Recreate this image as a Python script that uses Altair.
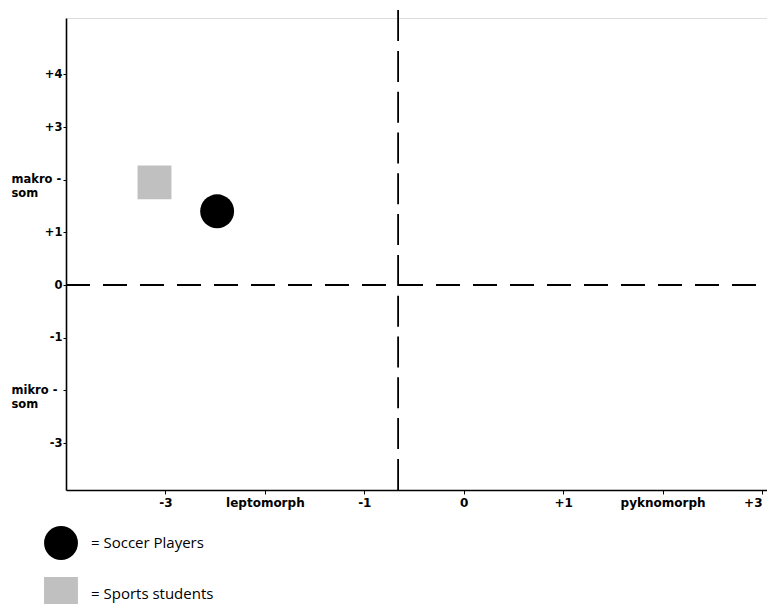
import altair as alt
import pandas as pd

# ---- data ----
groups = ["Soccer Players", "Sports students"]
legend_labels = ["= Soccer Players", "= Sports students"]
x_vals = [-2.48, -3.11]
y_vals = [1.40, 1.95]
shapes = ["circle", "square"]
colors = ["#000000", "#c0c0c0"]

x_ticks = [-3, -2, -1, 0, 1, 2, 3]
x_labels = ["-3", "leptomorph", "-1", "0", "+1", "pyknomorph", "+3"]
y_ticks = [-3, -2, -1, 0, 1, 2, 3, 4]
y_labels = [["-3"], ["mikro -", "som"], ["-1"], ["0"], ["+1"],
            ["makro -", "som"], ["+3"], ["+4"]]

x_domain = [-4.0, 3.05]
y_domain = [-3.89, 5.07]

h_line_y = [0.0]
h_line_x = [-4.0, 3.05]
v_line_x = [-0.66]
v_line_y = [-3.89, 5.22]

df = pd.DataFrame({"group": groups, "x": x_vals, "y": y_vals})


def js_list(vals):
    out = []
    for v in vals:
        if isinstance(v, list):
            out.append("[" + ",".join("'" + s + "'" for s in v) + "]")
        elif isinstance(v, str):
            out.append("'" + v + "'")
        else:
            out.append(str(v))
    return "[" + ",".join(out) + "]"


x_label_expr = f"{js_list(x_labels)}[indexof({js_list(x_ticks)}, datum.value)]"
y_label_expr = f"{js_list(y_labels)}[indexof({js_list(y_ticks)}, datum.value)]"

FONT = "DejaVu Sans"

xscale = alt.Scale(domain=x_domain, nice=False, zero=False)
yscale = alt.Scale(domain=y_domain, nice=False, zero=False)

x_axis = alt.Axis(values=x_ticks, labelExpr=x_label_expr, title=None, grid=False,
                  domainColor="black", domainWidth=1.6, tickColor="black", tickSize=4,
                  labelFont=FONT, labelFontSize=12, labelFontWeight="bold",
                  labelColor="black", labelPadding=3,
                  labelAlign={"condition": {"test": "datum.value >= 3", "value": "right"},
                              "value": "center"},
                  labelOverlap=False, labelFlush=False)
y_axis = alt.Axis(values=y_ticks, labelExpr=y_label_expr, title=None, grid=False,
                  domainColor="black", domainWidth=1.6, tickColor="black", tickSize=3,
                  labelFont=FONT, labelFontSize=11.5, labelFontWeight="bold",
                  labelColor="black",
                  labelPadding={"condition": {"test": "abs(datum.value) == 2", "value": 52},
                                "value": 1},
                  labelAlign={"condition": {"test": "abs(datum.value) == 2", "value": "left"},
                              "value": "right"},
                  labelOverlap=False, labelFlush=False, labelLineHeight=14)

points = alt.Chart(df).mark_point(filled=True, opacity=1, size=1150, strokeWidth=0).encode(
    x=alt.X("x:Q", scale=xscale, axis=x_axis),
    y=alt.Y("y:Q", scale=yscale, axis=y_axis),
    color=alt.Color("group:N", scale=alt.Scale(domain=groups, range=colors),
                    legend=alt.Legend(title=None, orient="none", legendX=-22, legendY=508,
                                      symbolSize=1150, symbolOpacity=1, symbolStrokeWidth=0,
                                      labelFont="Open Sans", labelFontSize=15,
                                      labelColor="black", labelOffset=13, rowPadding=17,
                                      labelExpr=f"{js_list(legend_labels)}[indexof({js_list(groups)}, datum.label)]")),
    shape=alt.Shape("group:N", scale=alt.Scale(domain=groups, range=shapes)),
)

hdf = pd.DataFrame({"y": h_line_y, "x": [h_line_x[0]], "x2": [h_line_x[1]]})
vdf = pd.DataFrame({"x": v_line_x, "y": [v_line_y[1]], "y2": [v_line_y[0]]})

h_rule = alt.Chart(hdf).mark_rule(color="black", strokeWidth=2, strokeDash=[24, 13]).encode(
    x=alt.X("x:Q", scale=xscale), x2="x2:Q", y=alt.Y("y:Q", scale=yscale))
v_rule = alt.Chart(vdf).mark_rule(color="black", strokeWidth=1.8, strokeDash=[31, 9.8]).encode(
    x=alt.X("x:Q", scale=xscale), y=alt.Y("y:Q", scale=yscale), y2="y2:Q")

chart = alt.layer(h_rule, v_rule, points).properties(
    width=701, height=472,
    autosize=alt.AutoSizeParams(type="none"),
    padding={"left": 58, "top": 10, "right": 0, "bottom": 114},
).configure_view(stroke=None).configure(background="white")

chart.save("out.html", embed_options={"renderer": "svg", "actions": False})
